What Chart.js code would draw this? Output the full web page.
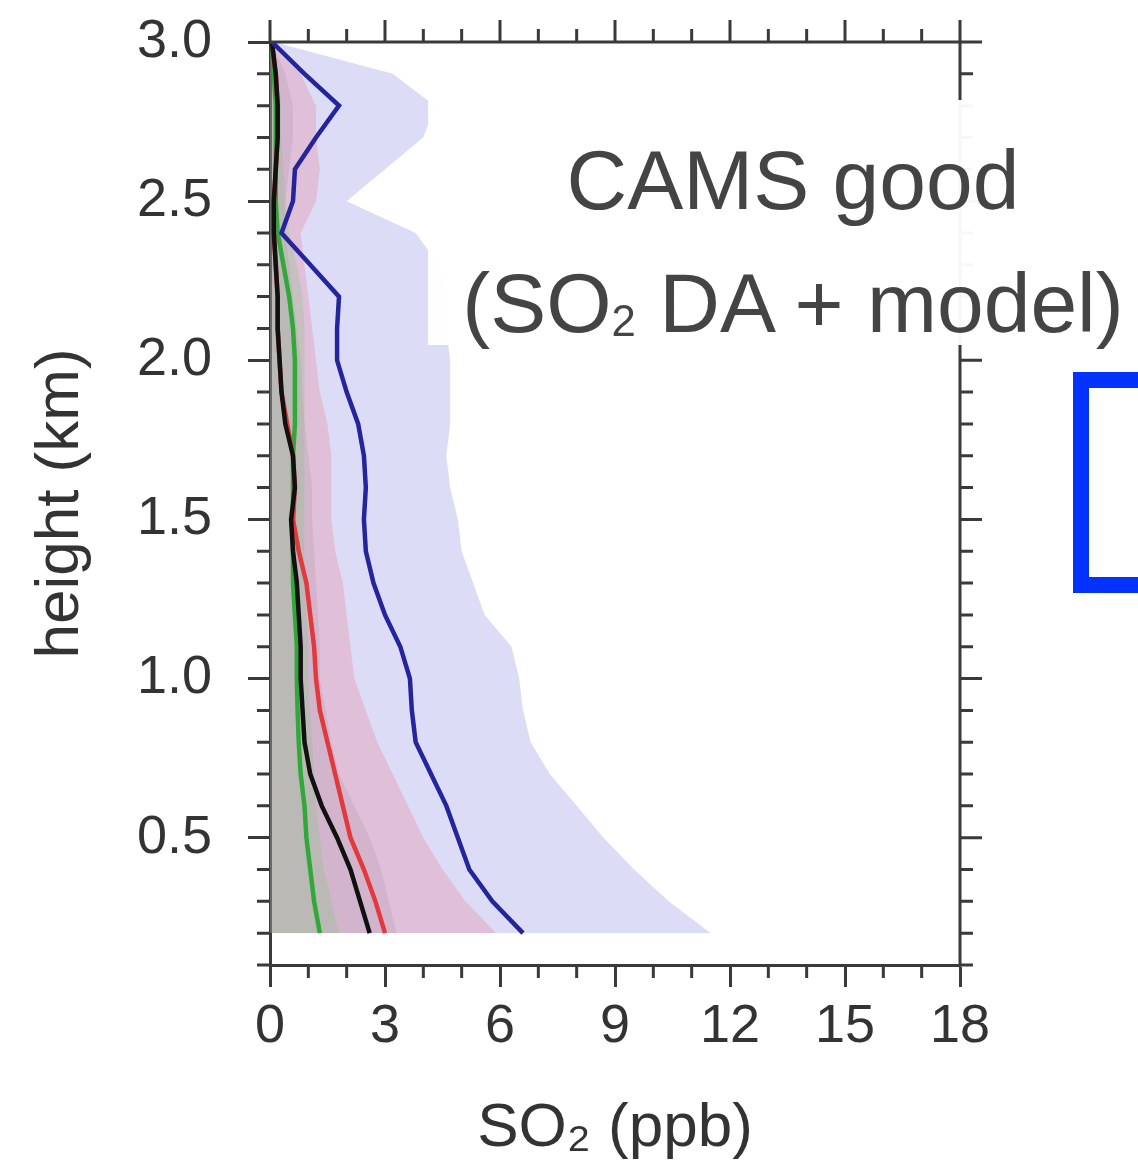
<!DOCTYPE html>
<html>
<head>
<meta charset="utf-8">
<script src="https://cdn.jsdelivr.net/npm/chart.js@4.4.1/dist/chart.umd.min.js"></script>
<style>
  body { margin: 0; background: #fff; overflow: hidden; }
  #wrap { position: relative; width: 1138px; height: 1174px; }
  #note {
    position: absolute; left: 428px; top: 100px; width: 730px; height: 245px;
    box-sizing: border-box; padding-top: 19px;
    background: rgba(255,255,255,0.96); color: #444;
    font-family: "Liberation Sans", Arial, Helvetica, sans-serif;
    font-size: 84px; line-height: 123px; text-align: center; white-space: nowrap;
  }
  #note .sub { font-size: 0.52em; vertical-align: -0.1em; line-height: 0; }
  #bracket {
    position: absolute; left: 1073px; top: 372px; width: 120px; height: 221px;
    box-sizing: border-box; border: 16px solid #0433ff;
  }
</style>
</head>
<body>
<div id="wrap">
  <canvas id="myChart" width="1138" height="1174"></canvas>
  <div id="note">CAMS good<br>(SO<span class="sub">2</span> DA + model)</div>
  <div id="bracket"></div>
</div>
<script>
// heights of the profile levels (km)
var heights = [3.0, 2.9, 2.8, 2.7, 2.6, 2.5, 2.4, 2.3, 2.2, 2.1, 2.0, 1.9, 1.8, 1.7, 1.6, 1.5, 1.4, 1.3, 1.2, 1.1, 1.0, 0.9, 0.8, 0.7, 0.6, 0.5, 0.4, 0.3, 0.2];

// mean profiles (ppb)
var blueMean  = [0.05, 0.9, 1.8, 1.2, 0.65, 0.6, 0.3, 1.05, 1.8, 1.75, 1.75, 2.0, 2.3, 2.45, 2.5, 2.45, 2.5, 2.7, 3.0, 3.4, 3.65, 3.7, 3.8, 4.2, 4.6, 4.9, 5.2, 5.8, 6.6];
var blackMean = [0.05, 0.15, 0.2, 0.2, 0.15, 0.1, 0.1, 0.15, 0.2, 0.2, 0.25, 0.3, 0.4, 0.6, 0.65, 0.55, 0.6, 0.7, 0.75, 0.8, 0.8, 0.85, 0.9, 1.05, 1.35, 1.75, 2.1, 2.35, 2.6];
var redMean   = [0.05, 0.15, 0.2, 0.2, 0.15, 0.1, 0.1, 0.15, 0.2, 0.2, 0.25, 0.3, 0.45, 0.6, 0.65, 0.6, 0.75, 0.95, 1.05, 1.15, 1.2, 1.3, 1.5, 1.7, 1.9, 2.1, 2.45, 2.75, 3.0];
var greenMean = [0.05, 0.1, 0.15, 0.15, 0.15, 0.15, 0.2, 0.35, 0.5, 0.6, 0.65, 0.65, 0.65, 0.6, 0.6, 0.6, 0.6, 0.6, 0.65, 0.7, 0.7, 0.72, 0.75, 0.8, 0.9, 0.95, 1.05, 1.15, 1.3];

// upper edges of the shaded spread (ppb), lower edges at 0
var blueUpper  = [0.1, 3.2, 4.3, 4.0, 3.0, 2.0, 3.8, 4.4, 4.6, 4.6, 4.7, 4.7, 4.7, 4.6, 4.7, 4.9, 5.0, 5.3, 5.6, 6.3, 6.5, 6.6, 6.8, 7.3, 8.0, 8.7, 9.5, 10.4, 11.5];
var redUpper   = [0.1, 0.8, 1.2, 1.2, 1.3, 1.2, 0.8, 0.9, 1.0, 1.1, 1.2, 1.3, 1.5, 1.6, 1.6, 1.6, 1.7, 1.9, 2.0, 2.1, 2.2, 2.5, 2.8, 3.2, 3.6, 4.0, 4.5, 5.1, 5.9];
var blackUpper = [0.05, 0.4, 0.6, 0.6, 0.5, 0.4, 0.4, 0.5, 0.6, 0.7, 0.8, 0.85, 0.9, 1.0, 1.1, 1.1, 1.15, 1.2, 1.25, 1.3, 1.3, 1.45, 1.6, 1.8, 2.2, 2.6, 2.9, 3.1, 3.3];
var greenUpper = [0.05, 0.2, 0.3, 0.3, 0.35, 0.4, 0.5, 0.7, 0.85, 0.9, 0.9, 0.9, 0.9, 0.9, 0.9, 0.9, 0.9, 0.9, 0.95, 1.0, 1.0, 1.05, 1.1, 1.15, 1.2, 1.3, 1.4, 1.6, 1.8];

var xTicks = [0, 3, 6, 9, 12, 15, 18];
var yTicks = [0.5, 1.0, 1.5, 2.0, 2.5, 3.0];

var axisColor = '#3a3a3a';
var fontFamily = '"Liberation Sans", Arial, Helvetica, sans-serif';

function profile(values) {
	return heights.map(function(h, i) { return {x: values[i], y: h}; });
}

function lineSet(values, color) {
	return {data: profile(values), borderColor: color, borderWidth: 4.5, pointRadius: 0, fill: false, tension: 0};
}

function bandSet(values, color) {
	return {data: profile(values), borderWidth: 0, borderColor: 'rgba(0,0,0,0)', backgroundColor: color, pointRadius: 0, fill: 'origin', tension: 0};
}

// minor ticks + top/right frame, all pointing outward
const frameTicks = {
	id: 'frameTicks',
	afterDraw(chart) {
		const {ctx, chartArea: a, scales: {x, y}} = chart;
		ctx.save();
		ctx.strokeStyle = axisColor;
		ctx.lineWidth = 3;
		ctx.beginPath();
		ctx.moveTo(a.left, a.top);
		ctx.lineTo(a.right, a.top);
		ctx.lineTo(a.right, a.bottom);
		ctx.stroke();

		ctx.beginPath();
		for (var v = 0; v <= 18; v++) {
			var px = x.getPixelForValue(v);
			var major = v % 3 === 0;
			var len = major ? 22 : 13;
			ctx.moveTo(px, a.top); ctx.lineTo(px, a.top - len);
			if (!major) { ctx.moveTo(px, a.bottom); ctx.lineTo(px, a.bottom + len); }
		}
		for (var i = 1; i <= 30; i++) {
			var py = y.getPixelForValue(i / 10);
			var maj = i % 5 === 0;
			var l = maj ? 22 : 13;
			ctx.moveTo(a.right, py); ctx.lineTo(a.right + l, py);
			if (!maj) { ctx.moveTo(a.left, py); ctx.lineTo(a.left - l, py); }
		}
		ctx.stroke();
		ctx.restore();
	}
};

window.onload = function() {
	const ctx = document.getElementById('myChart').getContext('2d');
	new Chart(ctx, {
		type: 'line',
		data: {
			datasets: [
				lineSet(blueMean, '#24249c'),
				lineSet(blackMean, '#111111'),
				lineSet(redMean, '#e23a3c'),
				lineSet(greenMean, '#32a83a'),
				bandSet(greenUpper, 'rgba(90,200,90,0.20)'),
				bandSet(blackUpper, 'rgba(110,110,110,0.12)'),
				bandSet(redUpper, 'rgba(235,110,130,0.26)'),
				bandSet(blueUpper, 'rgba(110,110,220,0.24)')
			]
		},
		options: {
			indexAxis: 'y',
			responsive: false,
			animation: false,
			layout: {padding: {top: 42, right: 178, bottom: 0, left: 0}},
			plugins: {legend: {display: false}, tooltip: {enabled: false}},
			scales: {
				x: {
					type: 'linear', position: 'bottom', min: 0, max: 18,
					afterBuildTicks: function(s) { s.ticks = xTicks.map(function(v) { return {value: v}; }); },
					afterFit: function(s) { s.height = 209; s.paddingLeft = 0; s.paddingRight = 0; },
					ticks: {color: '#333', font: {family: fontFamily, size: 54}, padding: 8, maxRotation: 0, autoSkip: false},
					grid: {drawOnChartArea: false, tickLength: 22, tickWidth: 3, tickColor: axisColor},
					border: {color: axisColor, width: 3},
					title: {display: true, text: 'SO₂ (ppb)', color: '#333', font: {family: fontFamily, size: 62}, padding: {top: 0, bottom: 8}}
				},
				y: {
					type: 'linear', position: 'left', min: 0.1, max: 3.0,
					afterBuildTicks: function(s) { s.ticks = yTicks.map(function(v) { return {value: v}; }); },
					afterFit: function(s) { s.width = 270; s.paddingTop = 0; s.paddingBottom = 0; },
					ticks: {color: '#333', font: {family: fontFamily, size: 54}, padding: 36, autoSkip: false,
						callback: function(v) { return Number(v).toFixed(1); }},
					grid: {drawOnChartArea: false, tickLength: 22, tickWidth: 3, tickColor: axisColor},
					border: {color: axisColor, width: 3},
					title: {display: true, text: 'height (km)', color: '#333', font: {family: fontFamily, size: 62}, padding: {top: 24, bottom: 0}}
				}
			}
		},
		plugins: [frameTicks]
	});
};
</script>
</body>
</html>
